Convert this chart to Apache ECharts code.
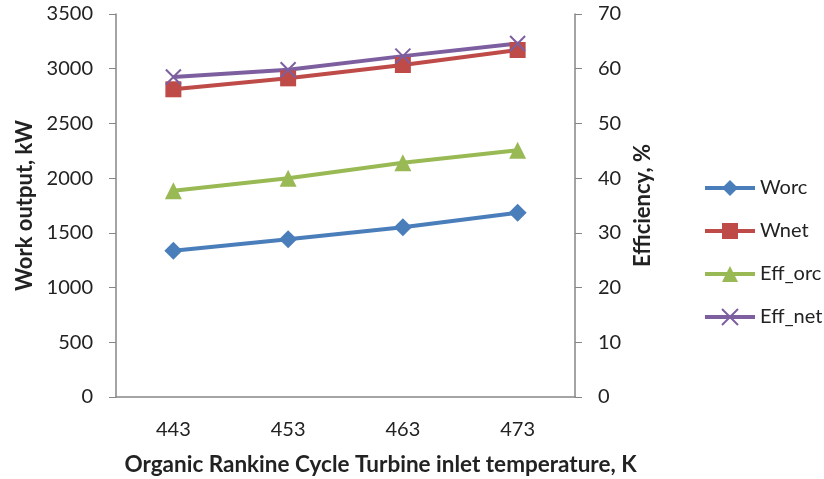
<!DOCTYPE html>
<html>
<head>
<meta charset="utf-8">
<script src="https://cdn.jsdelivr.net/npm/echarts@6/dist/echarts.min.js"></script>
<style>
html, body { margin: 0; padding: 0; background: #fff; }
#main { width: 824px; height: 479px; }
</style>
</head>
<body>
<div id="main"></div>
<script>
var temps = ['443', '453', '463', '473'];
var worc = [1337, 1441, 1551, 1684];
var wnet = [2812, 2912, 3034, 3171];
var effOrc = [37.7, 40.0, 42.8, 45.1];
var effNet = [58.5, 59.8, 62.3, 64.6];

var chart = echarts.init(document.getElementById('main'));
var font = 'Lato';
var axisGray = '#868686';
var txt = '#222';
var crossPath = 'path://M0,0 L10,10 M10,0 L0,10';

function lineSeries(name, data, color, symbol, size, yIdx) {
    return {
        name: name,
        type: 'line',
        yAxisIndex: yIdx,
        data: data,
        symbol: symbol,
        symbolSize: size,
        animation: false,
        lineStyle: { color: color, width: 4 },
        itemStyle: symbol === crossPath
            ? { color: 'rgba(0,0,0,0)', borderColor: color, borderWidth: 2 }
            : { color: color }
    };
}

var option = {
    backgroundColor: '#fff',
    textStyle: { fontFamily: font },
    grid: { left: 116, right: 249, top: 14, bottom: 82, outerBoundsMode: 'none' },
    legend: {
        orient: 'vertical',
        left: 698,
        top: 173,
        itemWidth: 50,
        itemHeight: 20,
        itemGap: 23,
        lineStyle: { width: 4 },
        textStyle: { fontFamily: font, fontSize: 20, lineHeight: 20, color: txt },
        data: ['Worc', 'Wnet', 'Eff_orc', 'Eff_net']
    },
    xAxis: {
        type: 'category',
        data: temps,
        boundaryGap: true,
        name: 'Organic Rankine Cycle Turbine inlet temperature, K',
        nameLocation: 'middle',
        nameGap: 56,
        nameTextStyle: { fontFamily: font, fontSize: 22.5, fontWeight: 'bold', color: txt, padding: [0, 0, 0, 70] },
        axisLine: { lineStyle: { color: axisGray, width: 1.5 } },
        axisTick: { length: 6, lineStyle: { color: axisGray } },
        axisLabel: { fontSize: 20, color: txt, margin: 23 }
    },
    yAxis: [{
        type: 'value',
        min: 0, max: 3500, interval: 500,
        name: 'Work output, kW',
        nameLocation: 'middle',
        nameGap: 80,
        nameTextStyle: { fontFamily: font, fontSize: 22, fontWeight: 'bold', color: txt },
        axisLine: { show: true, lineStyle: { color: axisGray, width: 1.5 } },
        axisTick: { show: true, length: 7, lineStyle: { color: axisGray } },
        axisLabel: { fontSize: 20, color: txt, margin: 23, formatter: function (v) { return String(v); } },
        splitLine: { show: false }
    }, {
        type: 'value',
        min: 0, max: 70, interval: 10,
        name: 'Efficiency, %',
        nameLocation: 'middle',
        nameGap: 57,
        nameRotate: 90,
        nameTextStyle: { fontFamily: font, fontSize: 22, fontWeight: 'bold', color: txt },
        axisLine: { show: true, lineStyle: { color: axisGray, width: 1.5 } },
        axisTick: { show: true, length: 7, lineStyle: { color: axisGray } },
        axisLabel: { fontSize: 20, color: txt, margin: 23 },
        splitLine: { show: false }
    }],
    series: [
        lineSeries('Worc', worc, '#4A7EBB', 'diamond', 18, 0),
        lineSeries('Wnet', wnet, '#BE4B48', 'rect', 16, 0),
        lineSeries('Eff_orc', effOrc, '#98B954', 'triangle', 17, 1),
        lineSeries('Eff_net', effNet, '#7D5FA0', crossPath, 15, 1)
    ]
};

chart.setOption(option);
</script>
</body>
</html>
